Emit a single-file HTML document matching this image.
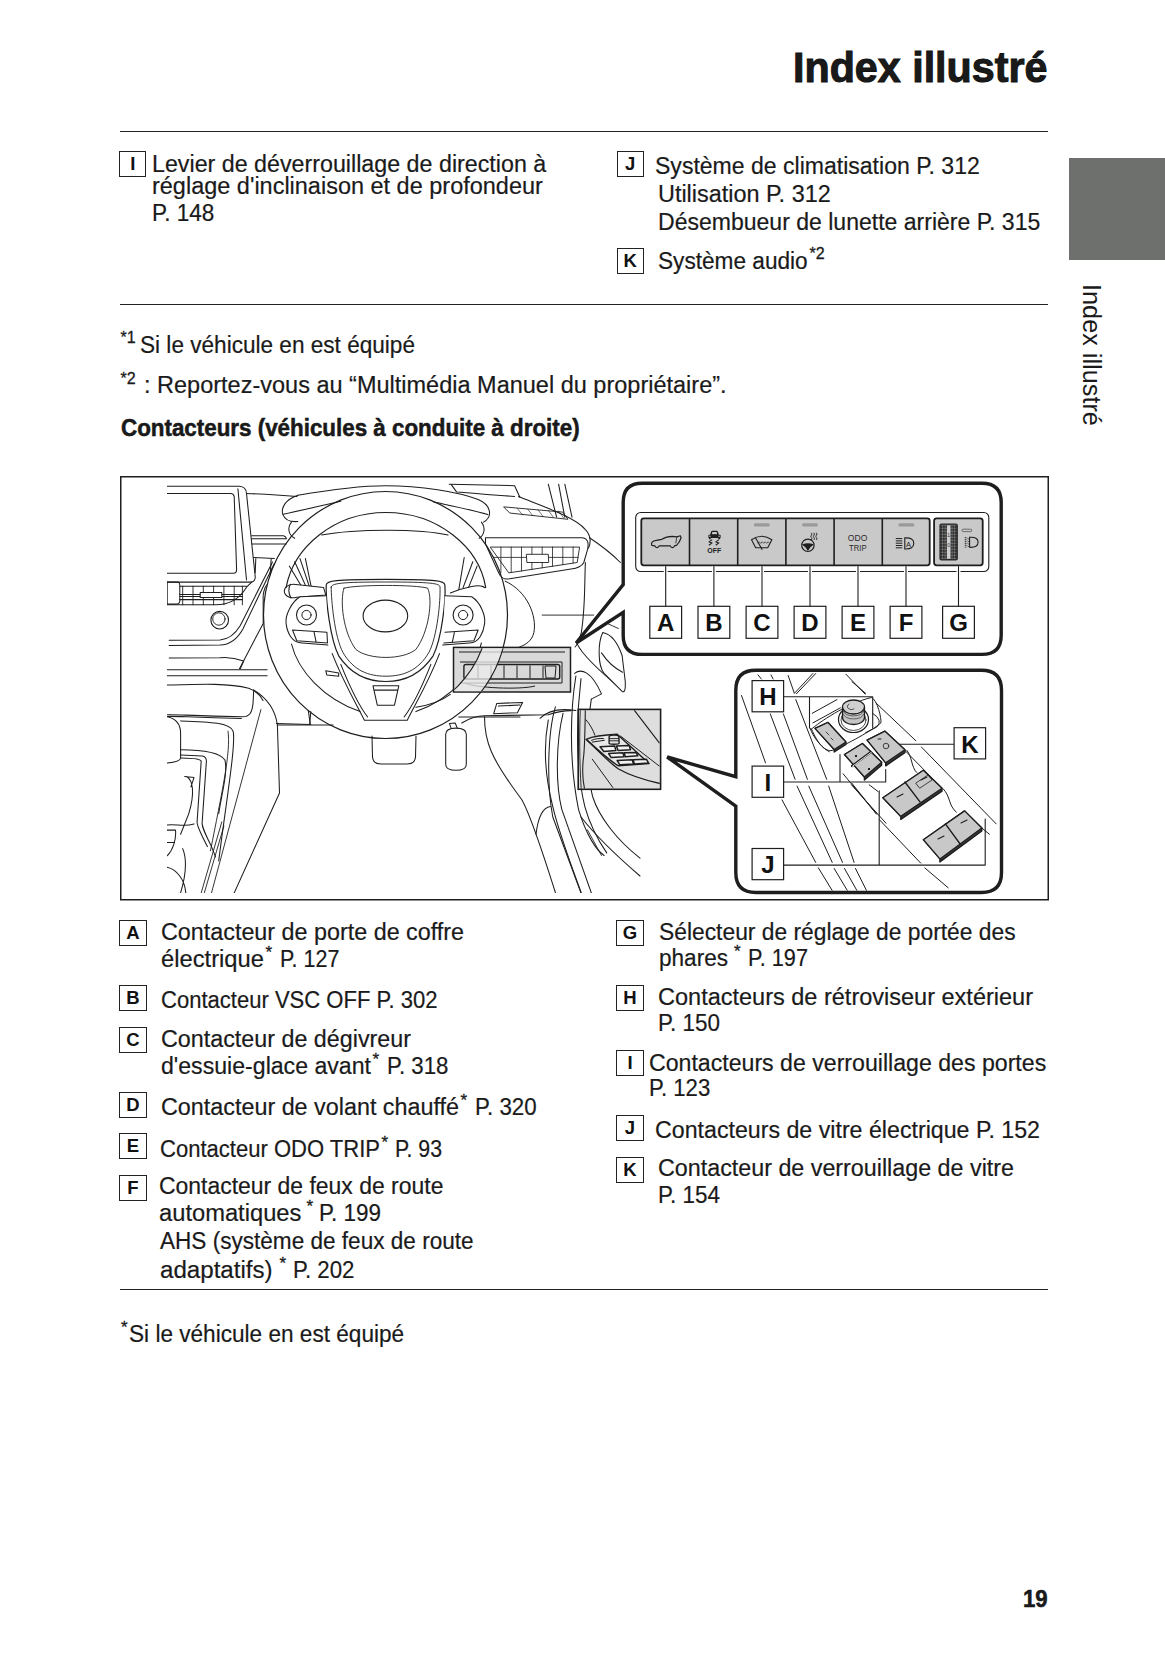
<!DOCTYPE html>
<html><head><meta charset="utf-8"><title>Index illustré</title>
<style>
html,body{margin:0;padding:0;background:#fff;}
body{width:1165px;height:1653px;position:relative;overflow:hidden;font-family:"Liberation Sans",sans-serif;color:#1a1a1a;}
.t{position:absolute;white-space:nowrap;transform-origin:0 0;-webkit-text-stroke:0.2px #1a1a1a;}
.b{font-weight:bold;}
#t_title{-webkit-text-stroke:1px #111;}
#n3,#pg{-webkit-text-stroke:0.5px #111;}
.sup{position:absolute;white-space:nowrap;-webkit-text-stroke:0.3px #1a1a1a;}
.bx{position:absolute;box-sizing:border-box;width:27.2px;height:26px;border:1.5px solid #222;font-weight:bold;font-size:18.5px;line-height:24px;text-align:center;color:#111;}
.rule{position:absolute;left:120px;width:928px;height:1.4px;background:#222;}
</style></head><body>

<div id="t_title" class="t b" style="left:792.6px;top:47.2px;font-size:42px;line-height:42px;transform:scaleX(0.9819)">Index illustré</div>
<div id="l1" class="t" style="left:152.2px;top:152.8px;font-size:23px;line-height:23px;transform:scaleX(1.0109)">Levier de déverrouillage de direction à</div>
<div id="l2" class="t" style="left:152.2px;top:175.3px;font-size:23px;line-height:23px;transform:scaleX(1.0207)">réglage d&#x27;inclinaison et de profondeur</div>
<div id="l3" class="t" style="left:152.2px;top:202.10000000000002px;font-size:23px;line-height:23px;transform:scaleX(0.9806)">P. 148</div>
<div id="r1" class="t" style="left:655.2px;top:154.8px;font-size:23px;line-height:23px;transform:scaleX(1.0015)">Système de climatisation P. 312</div>
<div id="r2" class="t" style="left:658.3px;top:183.0px;font-size:23px;line-height:23px;transform:scaleX(1.0181)">Utilisation P. 312</div>
<div id="r3" class="t" style="left:658.3px;top:210.8px;font-size:23px;line-height:23px;transform:scaleX(1.0011)">Désembueur de lunette arrière P. 315</div>
<div id="r4" class="t" style="left:658.3px;top:249.5px;font-size:23px;line-height:23px;transform:scaleX(0.9840)">Système audio</div>
<div id="n1" class="t" style="left:140px;top:333.8px;font-size:23px;line-height:23px;transform:scaleX(0.9820)">Si le véhicule en est équipé</div>
<div id="n2" class="t" style="left:144px;top:374.2px;font-size:23px;line-height:23px;transform:scaleX(1.0218)">: Reportez-vous au “Multimédia Manuel du propriétaire”.</div>
<div id="n3" class="t b" style="left:121px;top:416.8px;font-size:23px;line-height:23px;transform:scaleX(0.9724)">Contacteurs (véhicules à conduite à droite)</div>
<div id="a1" class="t" style="left:161px;top:920.8px;font-size:23px;line-height:23px;transform:scaleX(1.0142)">Contacteur de porte de coffre</div>
<div id="a2" class="t" style="left:161px;top:947.8px;font-size:23px;line-height:23px;transform:scaleX(1.0327)">électrique</div>
<div id="a3" class="t" style="left:279.6px;top:947.8px;font-size:23px;line-height:23px;transform:scaleX(0.9350)">P. 127</div>
<div id="b1" class="t" style="left:161px;top:988.8px;font-size:23px;line-height:23px;transform:scaleX(0.9581)">Contacteur VSC OFF P. 302</div>
<div id="c1" class="t" style="left:161px;top:1027.8px;font-size:23px;line-height:23px;transform:scaleX(1.0131)">Contacteur de dégivreur</div>
<div id="c2" class="t" style="left:161px;top:1054.8px;font-size:23px;line-height:23px;transform:scaleX(1.0049)">d&#x27;essuie-glace avant</div>
<div id="c3" class="t" style="left:386.6px;top:1054.8px;font-size:23px;line-height:23px;transform:scaleX(0.9665)">P. 318</div>
<div id="d1" class="t" style="left:161px;top:1095.8px;font-size:23px;line-height:23px;transform:scaleX(1.0147)">Contacteur de volant chauffé</div>
<div id="d2" class="t" style="left:475px;top:1095.8px;font-size:23px;line-height:23px;transform:scaleX(0.9696)">P. 320</div>
<div id="e1" class="t" style="left:160px;top:1137.8px;font-size:23px;line-height:23px;transform:scaleX(0.9580)">Contacteur ODO TRIP</div>
<div id="e2" class="t" style="left:395.4px;top:1137.8px;font-size:23px;line-height:23px;transform:scaleX(0.9261)">P. 93</div>
<div id="f1" class="t" style="left:158.6px;top:1174.8px;font-size:23px;line-height:23px;transform:scaleX(0.9974)">Contacteur de feux de route</div>
<div id="f2" class="t" style="left:158.6px;top:1201.8px;font-size:23px;line-height:23px;transform:scaleX(1.0312)">automatiques</div>
<div id="f3" class="t" style="left:319px;top:1201.8px;font-size:23px;line-height:23px;transform:scaleX(0.9759)">P. 199</div>
<div id="f4" class="t" style="left:160.4px;top:1229.8px;font-size:23px;line-height:23px;transform:scaleX(0.9812)">AHS (système de feux de route</div>
<div id="f5" class="t" style="left:160.4px;top:1258.8px;font-size:23px;line-height:23px;transform:scaleX(1.0484)">adaptatifs)</div>
<div id="f6" class="t" style="left:293px;top:1258.8px;font-size:23px;line-height:23px;transform:scaleX(0.9665)">P. 202</div>
<div id="g1" class="t" style="left:659px;top:920.8px;font-size:23px;line-height:23px;transform:scaleX(0.9925)">Sélecteur de réglage de portée des</div>
<div id="g2" class="t" style="left:659px;top:946.8px;font-size:23px;line-height:23px;transform:scaleX(0.9811)">phares</div>
<div id="g3" class="t" style="left:748px;top:946.8px;font-size:23px;line-height:23px;transform:scaleX(0.9444)">P. 197</div>
<div id="h1" class="t" style="left:658px;top:986.1999999999999px;font-size:23px;line-height:23px;transform:scaleX(1.0221)">Contacteurs de rétroviseur extérieur</div>
<div id="h2" class="t" style="left:658px;top:1011.8px;font-size:23px;line-height:23px;transform:scaleX(0.9759)">P. 150</div>
<div id="i1" class="t" style="left:649.4px;top:1051.8px;font-size:23px;line-height:23px;transform:scaleX(1.0054)">Contacteurs de verrouillage des portes</div>
<div id="i2" class="t" style="left:649.4px;top:1077.3999999999999px;font-size:23px;line-height:23px;transform:scaleX(0.9633)">P. 123</div>
<div id="j1" class="t" style="left:655px;top:1118.8px;font-size:23px;line-height:23px;transform:scaleX(1.0082)">Contacteurs de vitre électrique P. 152</div>
<div id="k1" class="t" style="left:658px;top:1157.3999999999999px;font-size:23px;line-height:23px;transform:scaleX(1.0125)">Contacteur de verrouillage de vitre</div>
<div id="k2" class="t" style="left:658px;top:1184.3999999999999px;font-size:23px;line-height:23px;transform:scaleX(0.9759)">P. 154</div>
<div id="fn" class="t" style="left:128.6px;top:1323.3px;font-size:23px;line-height:23px;transform:scaleX(0.9827)">Si le véhicule en est équipé</div>
<div id="pg" class="t b" style="left:1023.3px;top:1588.0px;font-size:23px;line-height:23px;transform:scaleX(0.9651)">19</div>
<div class="sup" style="left:120.5px;top:329.9px;font-size:16px;line-height:16px">*1</div>
<div class="sup" style="left:120.5px;top:370.9px;font-size:16px;line-height:16px">*2</div>
<div class="sup" style="left:809.5px;top:245.9px;font-size:16px;line-height:16px">*2</div>
<div class="sup" style="left:265.5px;top:943.8px;font-size:17px;line-height:17px">*</div>
<div class="sup" style="left:372.5px;top:1050.8px;font-size:17px;line-height:17px">*</div>
<div class="sup" style="left:460.5px;top:1091.8px;font-size:17px;line-height:17px">*</div>
<div class="sup" style="left:381.5px;top:1133.8px;font-size:17px;line-height:17px">*</div>
<div class="sup" style="left:306.5px;top:1197.8px;font-size:17px;line-height:17px">*</div>
<div class="sup" style="left:279.5px;top:1254.8px;font-size:17px;line-height:17px">*</div>
<div class="sup" style="left:734.1px;top:942.8px;font-size:17px;line-height:17px">*</div>
<div class="sup" style="left:120.9px;top:1318.8px;font-size:17px;line-height:17px">*</div>
<div class="bx" style="left:119.3px;top:151.3px">I</div>
<div class="bx" style="left:616.5px;top:151.3px">J</div>
<div class="bx" style="left:616.5px;top:248.2px">K</div>
<div class="bx" style="left:119.4px;top:920px">A</div>
<div class="bx" style="left:119.4px;top:985.4px">B</div>
<div class="bx" style="left:119.4px;top:1026.6px">C</div>
<div class="bx" style="left:119.4px;top:1091.6px">D</div>
<div class="bx" style="left:119.4px;top:1133.4px">E</div>
<div class="bx" style="left:119.4px;top:1175.4px">F</div>
<div class="bx" style="left:616.4px;top:920px">G</div>
<div class="bx" style="left:616.4px;top:985.4px">H</div>
<div class="bx" style="left:616.4px;top:1050.4px">I</div>
<div class="bx" style="left:616.4px;top:1115.4px">J</div>
<div class="bx" style="left:616.4px;top:1157px">K</div>
<div class="rule" style="top:131px"></div>
<div class="rule" style="top:304px"></div>
<div class="rule" style="top:1289px"></div>
<div style="position:absolute;left:1069px;top:157.6px;width:96px;height:102.4px;background:#6d706d"></div>
<div id="side" style="position:absolute;left:1078.5px;top:283.5px;width:0;height:0;"><div style="position:absolute;left:0;top:0;transform-origin:0 0;transform:rotate(90deg) translate(0,-100%) scaleX(0.972);font-size:26px;line-height:26px;white-space:nowrap">Index illustré</div></div>
<svg style="position:absolute;left:0;top:0" width="1165" height="1653" viewBox="0 0 1165 1653">
<defs><clipPath id="artclip"><rect x="167" y="478" width="878" height="415"/></clipPath></defs>
<rect x="120.75" y="476.75" width="927.5" height="423" fill="none" stroke="#1e1e1e" stroke-width="1.5"/>
<g clip-path="url(#artclip)" stroke-linejoin="round" stroke-linecap="round">
<path d="M 167.2,486.3 L 239.3,486.3 Q 246.1,486.7 246.5,493.5 L 255.2,576.5 Q 255.6,582.1 250.2,582.1 L 167.2,582.1" fill="none" stroke="#1e1e1e" stroke-width="1.05" />
<path d="M 167.2,493.5 L 231.1,493.5 Q 233.8,493.9 234.2,496.6 L 236.6,569.7 Q 236.8,573.2 233.3,573.2 L 167.2,573.2" fill="none" stroke="#1e1e1e" stroke-width="1.05" />
<path d="M 237.9,488.8 L 246.5,580.0" fill="none" stroke="#1e1e1e" stroke-width="1.05" />
<path d="M 246.5,493.5 C 263.0,494.1 279.5,495.0 297.0,496.6" fill="none" stroke="#1e1e1e" stroke-width="1.05" />
<path d="M 251.7,535.7 L 283.6,535.7 Q 286.1,536.2 286.5,538.8 M 251.7,538.8 L 286.5,538.8 M 252.3,544.0 L 286.1,544.0" fill="none" stroke="#1e1e1e" stroke-width="1.05" />
<path d="M 253.7,557.4 L 274.3,558.4 M 255.8,558.4 L 255.2,572.8 M 271.2,558.4 L 270.2,574.9" fill="none" stroke="#1e1e1e" stroke-width="1.05" />
<path d="M 167.2,582.1 L 167.2,604.8 L 215.6,604.8 C 230.0,604.8 240.3,597.5 246.5,587.2 L 251.7,582.1" fill="none" stroke="#1e1e1e" stroke-width="1.05" />
<path d="M 167.2,582.1 L 178.5,582.1 Q 179.8,583.1 179.8,585.2 L 179.8,601.7 Q 179.4,603.7 177.5,604.1 L 167.2,604.1" fill="none" stroke="#1e1e1e" stroke-width="1.05" />
<path d="M 179.8,586.2 L 246.5,586.2 M 179.8,599.6 L 242.4,599.6 M 179.8,594.5 L 242.4,594.5 M 179.8,596.5 L 242.4,596.5" fill="none" stroke="#1e1e1e" stroke-width="1.05" />
<path d="M 182.7,586.2 L 182.7,604.8" fill="none" stroke="#1e1e1e" stroke-width="0.9" />
<path d="M 193.0,586.2 L 193.0,604.8" fill="none" stroke="#1e1e1e" stroke-width="0.9" />
<path d="M 203.3,586.2 L 203.3,604.8" fill="none" stroke="#1e1e1e" stroke-width="0.9" />
<path d="M 213.6,586.2 L 213.6,604.8" fill="none" stroke="#1e1e1e" stroke-width="0.9" />
<path d="M 223.9,586.2 L 223.9,604.8" fill="none" stroke="#1e1e1e" stroke-width="0.9" />
<path d="M 234.2,586.2 L 234.2,604.8" fill="none" stroke="#1e1e1e" stroke-width="0.9" />
<path d="M 242.4,586.2 L 242.4,604.8" fill="none" stroke="#1e1e1e" stroke-width="0.9" />
<path d="M 200.2,592.4 L 221.8,592.4 L 221.8,597.5 L 200.2,597.5 Z" fill="#fff" stroke="#1e1e1e" stroke-width="1.05" />
<path d="M 169.2,645.4 L 220.0,645.0 C 230.2,644.6 237.8,638.2 242.9,628.9 L 274.2,563.7" fill="none" stroke="#1e1e1e" stroke-width="1.05" />
<path d="M 169.2,640.3 L 220.0,639.9 C 228.5,639.5 235.2,634.0 240.3,625.5 L 272.5,562.0" fill="none" stroke="#1e1e1e" stroke-width="1.05" />
<path d="M 169.2,658.1 L 220.0,657.7 C 228.5,656.9 236.9,658.5 243.7,661.1 L 240.3,668.7" fill="none" stroke="#1e1e1e" stroke-width="1.05" />
<path d="M 167.2,669.7 L 267.1,669.7" fill="none" stroke="#1e1e1e" stroke-width="1.05" />
<path d="M 167.2,675.8 L 267.1,675.8" fill="none" stroke="#1e1e1e" stroke-width="1.05" />
<path d="M 167.2,685.1 C 201.2,684.1 228.0,683.0 248.6,688.2 C 256.8,691.3 260.9,696.4 263.0,700.6" fill="none" stroke="#1e1e1e" stroke-width="1.05" />
<path d="M 239.5,668.7 L 263.2,623.4 L 263.2,599.3 C 262.8,595.0 264.0,587.4 267.4,584.0" fill="none" stroke="#1e1e1e" stroke-width="1.05" />
<circle cx="219.7" cy="620.2" r="8.8" fill="#fff" stroke="#1e1e1e" stroke-width="1.1"/>
<circle cx="218.9" cy="619.0" r="6.2" fill="none" stroke="#1e1e1e" stroke-width="0.9"/>
<path d="M 297.9,495.3 C 334.4,488.9 366.6,485.7 385.9,485.7 C 420.2,485.7 458.8,492.1 478.2,499.6 C 491.0,505.0 493.2,516.8 483.5,522.1" fill="none" stroke="#1e1e1e" stroke-width="1.05" />
<path d="M 297.9,495.3 C 285.0,499.6 280.7,508.2 282.9,514.6 C 285.0,520.0 290.4,522.1 297.9,521.5" fill="none" stroke="#1e1e1e" stroke-width="1.05" />
<path d="M 283.3,514.2 C 302.2,510.3 323.6,505.0 340.8,501.3" fill="none" stroke="#1e1e1e" stroke-width="1.05" />
<path d="M 433.1,501.8 C 452.4,506.0 473.9,510.3 487.8,514.6" fill="none" stroke="#1e1e1e" stroke-width="1.05" />
<path d="M 291.5,522.1 C 287.2,527.5 288.2,535.0 294.7,538.2 M 481.4,522.1 C 485.7,527.5 484.6,535.0 479.2,538.2" fill="none" stroke="#1e1e1e" stroke-width="1.05" />
<path d="M 321.5,535.0 C 355.8,528.6 420.2,528.6 448.1,535.0" fill="none" stroke="#1e1e1e" stroke-width="1.05" />
<path d="M 305.4,558.6 L 311.8,589.7 M 464.2,557.5 L 458.8,589.7" fill="none" stroke="#1e1e1e" stroke-width="1.05" />
<path d="M 289.3,566.1 L 302.2,587.6 M 294.7,561.8 L 306.5,587.6 M 300.0,558.6 L 309.7,587.6 M 472.8,561.8 L 463.1,587.6 M 477.1,566.1 L 468.5,587.6" fill="none" stroke="#1e1e1e" stroke-width="1.05" />
<path d="M 295.8,584.4 C 287.2,583.3 283.3,588.7 284.6,593.0 C 286.1,597.2 291.5,598.7 296.8,597.2 L 325.8,595.1 L 323.6,587.6 Z" fill="#fff" stroke="#1e1e1e" stroke-width="1.05" />
<path d="M 290.4,584.4 C 288.2,587.6 288.2,594.0 291.0,597.9" fill="none" stroke="#1e1e1e" stroke-width="1.05" />
<path d="M 484.6,587.6 C 480.3,583.3 463.1,587.6 450.3,593.0" fill="none" stroke="#1e1e1e" stroke-width="1.05" />
<path d="M 449.2,484.2 L 514.6,485.7 L 520.0,497.5" fill="none" stroke="#1e1e1e" stroke-width="1.05" />
<path d="M 451.3,484.6 L 456.7,492.1 C 473.9,493.2 495.3,495.3 514.6,496.4" fill="none" stroke="#1e1e1e" stroke-width="1.05" />
<ellipse cx="385.5" cy="615" rx="122" ry="123.5" fill="none" stroke="#1e1e1e" stroke-width="1.2"/>
<path d="M 286.1,587.6 C 293.6,546.8 334.4,512.5 385.9,512.5 C 437.4,512.5 479.2,546.8 485.7,587.6" fill="none" stroke="#1e1e1e" stroke-width="1.15" />
<path d="M 326.2,585.0 C 326.2,580.7 334.4,579.4 385.9,579.4 C 437.4,579.4 444.9,580.7 444.9,585.0 C 446.0,600.0 441.7,638.6 433.1,655.8 C 420.2,675.1 403.0,681.5 385.9,681.5 C 368.7,681.5 351.5,675.1 338.7,655.8 C 330.1,638.6 325.8,600.0 326.2,585.0 Z" fill="#fff" stroke="#1e1e1e" stroke-width="1.2" />
<path d="M 331.2,587.1 C 331.2,583.3 340.8,582.0 385.9,582.0 C 430.9,582.0 440.0,583.3 440.0,587.1 C 440.6,600.0 437.4,636.5 428.8,652.6 C 418.1,670.8 403.0,676.2 385.9,676.2 C 368.7,676.2 353.7,670.8 343.0,652.6 C 334.4,636.5 331.2,600.0 331.2,587.1 Z" fill="none" stroke="#1e1e1e" stroke-width="0.9" />
<path d="M 344.0,588.2 C 355.8,584.5 415.9,584.5 427.7,588.2 C 433.1,600.0 428.8,632.2 415.9,649.4 C 403.0,660.1 368.7,660.1 355.8,649.4 C 343.0,632.2 339.7,600.0 344.0,588.2 Z" fill="none" stroke="#1e1e1e" stroke-width="0.9" />
<ellipse cx="385.4" cy="616" rx="22.3" ry="15.9" fill="none" stroke="#1e1e1e" stroke-width="1.1"/>
<path d="M 326.2,595.7 L 300.0,596.8 C 291.5,602.1 285.0,615.0 286.1,623.6 C 287.2,632.2 291.5,642.9 302.2,642.9 L 327.9,645.1" fill="#fff" stroke="#1e1e1e" stroke-width="1.05" />
<path d="M 444.9,595.7 L 471.7,596.8 C 480.3,602.1 485.7,615.0 484.6,623.6 C 483.5,632.2 479.2,642.9 469.6,642.9 L 442.7,645.1" fill="#fff" stroke="#1e1e1e" stroke-width="1.05" />
<path d="M 292.5,630.0 L 326.9,632.2 L 327.5,642.9 L 296.8,640.8 Z M 314.0,631.8 L 316.1,641.8 M 454.5,631.8 L 452.4,641.8 M 444.9,632.2 L 478.2,630.0 L 473.9,640.8 L 443.8,642.9" fill="none" stroke="#1e1e1e" stroke-width="1.05" />
<circle cx="306.5" cy="615" r="10" fill="#fff" stroke="#1e1e1e" stroke-width="1.1"/><circle cx="306.5" cy="615" r="4.6" fill="none" stroke="#1e1e1e" stroke-width="1"/>
<circle cx="463.1" cy="615" r="10" fill="#fff" stroke="#1e1e1e" stroke-width="1.1"/><circle cx="463.1" cy="615" r="4.6" fill="none" stroke="#1e1e1e" stroke-width="1"/>
<path d="M 332.2,653.6 C 343.0,681.5 355.8,703.0 364.4,720.2 L 407.3,720.2 C 415.9,703.0 428.8,681.5 439.5,653.6" fill="none" stroke="#1e1e1e" stroke-width="1.05" />
<path d="M 340.8,664.4 C 349.4,685.8 360.1,707.3 367.6,717.0 M 430.9,664.4 C 422.4,685.8 411.6,707.3 404.1,717.0" fill="none" stroke="#1e1e1e" stroke-width="1.05" />
<path d="M 373.0,685.8 L 398.8,685.8 L 394.5,705.2 L 377.3,705.2 Z M 374.1,690.1 L 397.7,690.1" fill="none" stroke="#1e1e1e" stroke-width="1.05" />
<path d="M 291.5,644.0 C 297.9,670.8 323.6,698.7 360.1,711.6 M 415.9,711.6 C 452.4,698.7 476.0,670.8 481.4,642.9" fill="none" stroke="#1e1e1e" stroke-width="1.05" />
<path d="M 325.8,670.8 L 338.7,673.0 L 338.7,676.2 L 326.9,675.1 Z" fill="none" stroke="#1e1e1e" stroke-width="1.05" />
<path d="M 276.4,723.4 L 310.8,724.5 M 310.8,711.6 L 309.7,724.5 M 458.8,717.0 L 520.0,717.0 M 415.9,707.3 C 428.8,705.2 441.7,700.9 450.3,694.4" fill="none" stroke="#1e1e1e" stroke-width="1.05" />
</g>
<g clip-path="url(#artclip)" stroke-linejoin="round" stroke-linecap="round">
<path d="M 548.3,484.2 L 556.6,517.2 M 558.6,484.2 L 564.8,517.2 M 564.8,484.2 L 572.0,517.2" fill="none" stroke="#1e1e1e" stroke-width="1.05" />
<path d="M 518.5,496.6 C 544.2,506.9 575.1,517.2 585.4,529.6 C 591.6,535.7 590.6,544.0 588.5,548.1" fill="none" stroke="#1e1e1e" stroke-width="1.05" />
<path d="M 485.5,537.8 L 582.3,537.8 C 588.5,538.8 589.1,544.0 587.1,551.2 L 583.8,562.5 C 581.7,566.6 577.2,568.3 571.0,569.1 L 508.2,579.0 C 503.0,579.4 500.9,577.4 498.9,573.2 L 485.5,544.0 Z" fill="none" stroke="#1e1e1e" stroke-width="1.05" />
<path d="M 490.6,547.1 L 579.6,547.1 L 577.2,562.5 L 509.2,572.8 Z" fill="none" stroke="#1e1e1e" stroke-width="0.9" />
<path d="M 500.9,547.1 L 500.9,572.8" fill="none" stroke="#1e1e1e" stroke-width="0.8" />
<path d="M 511.2,547.1 L 511.2,572.5" fill="none" stroke="#1e1e1e" stroke-width="0.8" />
<path d="M 521.5,547.1 L 521.5,571.0" fill="none" stroke="#1e1e1e" stroke-width="0.8" />
<path d="M 531.9,547.1 L 531.9,569.4" fill="none" stroke="#1e1e1e" stroke-width="0.8" />
<path d="M 542.2,547.1 L 542.2,567.8" fill="none" stroke="#1e1e1e" stroke-width="0.8" />
<path d="M 552.5,547.1 L 552.5,566.3" fill="none" stroke="#1e1e1e" stroke-width="0.8" />
<path d="M 562.8,547.1 L 562.8,564.7" fill="none" stroke="#1e1e1e" stroke-width="0.8" />
<path d="M 573.1,547.1 L 573.1,563.2" fill="none" stroke="#1e1e1e" stroke-width="0.8" />
<path d="M 493.7,557.4 L 578.2,557.4" fill="none" stroke="#1e1e1e" stroke-width="0.8" />
<path d="M 526.7,554.3 L 548.3,554.3 L 548.7,562.5 L 527.3,562.5 Z" fill="#fff" stroke="#1e1e1e" stroke-width="0.9" />
<path d="M 504.0,506.9 L 562.8,512.1 L 567.9,519.3 L 510.2,513.1 Z" fill="none" stroke="#1e1e1e" stroke-width="0.9" />
<path d="M 517.4,508.6 L 522.6,514.9" fill="none" stroke="#1e1e1e" stroke-width="0.6" />
<path d="M 527.7,509.2 L 532.9,515.8" fill="none" stroke="#1e1e1e" stroke-width="0.6" />
<path d="M 538.0,509.8 L 543.2,516.6" fill="none" stroke="#1e1e1e" stroke-width="0.6" />
<path d="M 548.3,510.4 L 553.5,517.4" fill="none" stroke="#1e1e1e" stroke-width="0.6" />
<path d="M 558.6,511.0 L 563.8,518.2" fill="none" stroke="#1e1e1e" stroke-width="0.6" />
<path d="M 585.4,562.5 C 584.4,583.1 585.4,607.9 581.3,632.6 C 579.2,640.8 577.2,644.9 575.1,647.0" fill="none" stroke="#1e1e1e" stroke-width="1.05" />
<path d="M 505.1,581.1 C 527.7,591.4 537.0,616.1 533.9,632.6 C 531.9,640.8 525.7,644.9 519.5,647.0" fill="none" stroke="#1e1e1e" stroke-width="1.0" />
<path d="M 542.2,615.1 L 593.7,615.1 M 595.7,618.2 L 618.4,628.5" fill="none" stroke="#1e1e1e" stroke-width="0.9" />
<path d="M 589.5,537.8 C 601.9,546.0 612.2,554.3 620.4,562.5" fill="none" stroke="#1e1e1e" stroke-width="1.05" />
<path d="M 577.2,643.9 C 581.3,653.2 597.8,669.7 622.5,690.3" fill="none" stroke="#1e1e1e" stroke-width="1.05" />
<path d="M 445.7,734.3 C 445.7,730.2 449.4,728.1 456.0,728.1 C 462.6,728.1 466.3,730.2 466.3,734.3 L 466.3,764.2 C 466.3,768.3 462.8,770.3 456.0,770.3 C 449.4,770.3 445.7,768.3 445.7,764.2 Z" fill="#fff" stroke="#1e1e1e" stroke-width="1.05" />
<path d="M 451.1,728.1 L 449.4,723.4 L 455.2,723.0 L 457.3,728.1" fill="none" stroke="#1e1e1e" stroke-width="1.05" />
<path d="M 372.0,736.0 L 372.5,757.0 Q 373.0,764.0 381.0,764.0 L 407.0,764.0 Q 415.0,764.0 415.5,757.0 L 416.0,736.0" fill="none" stroke="#1e1e1e" stroke-width="1.05" />
<path d="M 496.8,703.4 L 522.6,702.4 L 517.4,712.7 L 493.7,713.7 Z M 498.5,706.1 L 519.9,705.0" fill="none" stroke="#1e1e1e" stroke-width="1.05" />
<path d="M 461.8,723.0 C 472.1,716.8 478.3,715.8 484.5,715.8 L 548.3,714.7 C 554.5,712.7 562.8,710.6 571.0,710.6" fill="none" stroke="#1e1e1e" stroke-width="1.05" />
<path d="M 484.5,716.8 C 484.5,741.5 490.6,758.0 521.5,799.2 C 527.7,809.5 542.2,850.7 555.5,892.9" fill="none" stroke="#1e1e1e" stroke-width="1.05" />
<path d="M 548.3,719.9 C 544.2,741.5 544.2,772.4 552.5,805.4 C 556.6,823.9 571.0,865.1 581.3,892.9" fill="none" stroke="#1e1e1e" stroke-width="1.05" />
<path d="M 536.0,834.2 C 538.0,817.7 542.2,807.4 550.4,806.4" fill="none" stroke="#1e1e1e" stroke-width="1.05" />
<path d="M 602.8,632.4 C 597.7,642.7 597.7,665.7 604.1,673.4 L 622.1,691.4 C 625.9,693.9 625.9,683.7 624.6,676.0 L 622.1,655.5 C 616.9,640.1 609.2,633.7 602.8,632.4 Z" fill="#fff" stroke="#1e1e1e" stroke-width="1.05" />
<path d="M 601.5,652.9 C 606.7,660.6 614.4,668.3 622.6,672.2" fill="none" stroke="#1e1e1e" stroke-width="1.05" />
<path d="M 574.6,673.4 C 581.0,668.3 591.3,670.9 601.5,693.9 L 591.3,699.1" fill="none" stroke="#1e1e1e" stroke-width="1.05" />
<path d="M 575.9,676.0 C 570.8,706.8 568.2,758.1 578.5,809.3 C 586.2,835.0 596.4,850.4 604.1,855.5" fill="none" stroke="#1e1e1e" stroke-width="1.05" />
<path d="M 581.0,678.6 C 575.9,719.6 575.9,770.9 584.9,806.8 C 591.3,829.8 601.5,845.2 606.7,852.9" fill="none" stroke="#1e1e1e" stroke-width="1.05" />
<path d="M 591.3,699.1 C 586.2,732.4 586.2,770.9 592.6,796.5 C 599.0,817.0 616.9,840.1 640.0,858.1" fill="none" stroke="#1e1e1e" stroke-width="1.05" />
<path d="M 555.4,706.8 C 547.7,732.4 546.4,783.7 552.8,817.0 L 582.3,896.5" fill="none" stroke="#1e1e1e" stroke-width="1.05" />
<path d="M 563.1,713.2 C 555.9,742.7 555.4,783.7 561.8,809.3 L 592.6,896.5" fill="none" stroke="#1e1e1e" stroke-width="1.05" />
<path d="M 540.0,718.3 C 547.7,710.6 560.5,708.1 575.9,710.6" fill="none" stroke="#1e1e1e" stroke-width="1.05" />
<path d="M 581.0,817.0 C 599.0,840.1 622.1,860.6 640.0,876.0" fill="none" stroke="#1e1e1e" stroke-width="1.05" />
<path d="M 587.4,829.8 L 601.5,855.5" fill="none" stroke="#1e1e1e" stroke-width="0.9" />
<path d="M 167.2,714.7 C 176.5,714.3 190.9,715.8 242.4,716.8 C 249.6,716.8 252.3,712.7 253.1,702.4 L 253.7,690.0" fill="none" stroke="#1e1e1e" stroke-width="1.05" />
<path d="M 167.2,716.4 C 176.5,716.0 190.9,717.4 241.4,718.4" fill="none" stroke="#1e1e1e" stroke-width="1.05" />
<path d="M 180.6,720.9 C 211.5,721.9 230.0,723.0 233.1,731.2 C 236.2,743.6 225.9,803.3 218.7,861.0" fill="none" stroke="#1e1e1e" stroke-width="1.05" />
<path d="M 253.7,690.0 C 267.1,698.2 275.4,710.6 277.4,725.0 L 279.5,793.0 L 234.2,892.9" fill="none" stroke="#1e1e1e" stroke-width="1.05" />
<path d="M 260.9,709.6 L 211.5,892.9" fill="none" stroke="#1e1e1e" stroke-width="0.9" />
<path d="M 228.0,731.2 C 231.1,751.8 221.8,793.0 210.5,850.7" fill="none" stroke="#1e1e1e" stroke-width="0.9" />
<path d="M 167.2,716.8 C 176.5,718.8 180.6,725.0 180.6,733.3 L 180.6,758.0 C 180.6,761.1 172.4,762.5 167.2,763.1" fill="none" stroke="#1e1e1e" stroke-width="1.05" />
<path d="M 180.6,749.7 C 201.2,749.7 219.7,751.8 224.9,760.0 C 228.0,772.4 221.8,793.0 218.7,813.6" fill="none" stroke="#1e1e1e" stroke-width="1.05" />
<path d="M 180.6,754.9 L 202.2,755.9 C 205.3,756.3 206.4,758.0 206.4,761.1 L 202.2,821.9 C 201.2,826.0 205.3,834.2 211.5,846.6 L 215.6,856.9" fill="none" stroke="#1e1e1e" stroke-width="1.05" />
<path d="M 180.6,758.0 C 197.1,758.4 200.2,759.0 201.2,761.1 L 197.1,821.9 C 196.7,826.0 201.2,834.2 207.4,846.6" fill="none" stroke="#1e1e1e" stroke-width="1.05" />
<path d="M 184.7,776.5 L 194.0,777.6 L 190.9,786.8 M 186.8,776.5 C 193.0,780.6 195.0,793.0 188.8,813.6 L 180.6,834.2" fill="none" stroke="#1e1e1e" stroke-width="1.05" />
<path d="M 167.2,824.9 C 176.5,823.9 184.7,827.0 194.0,823.9 M 167.2,830.1 L 175.5,830.1 C 176.5,840.4 172.4,850.7 167.2,855.8" fill="none" stroke="#1e1e1e" stroke-width="1.05" />
<path d="M 167.2,842.5 L 174.4,842.5 M 167.2,867.2 C 176.5,869.2 184.7,879.5 185.8,892.9 M 180.6,892.9 C 185.8,875.4 187.8,861.0 182.7,848.6" fill="none" stroke="#1e1e1e" stroke-width="1.05" />
<path d="M 277.4,725.0 L 333.1,725.0 M 308.3,710.6 L 310.4,725.0" fill="none" stroke="#1e1e1e" stroke-width="1.05" />
<path d="M 201.2,892.9 L 221.8,821.9 M 204.3,892.9 L 223.9,826.0" fill="none" stroke="#1e1e1e" stroke-width="0.9" />
</g>
<defs><clipPath id="swbox"><rect x="454.3" y="648.2" width="115.4" height="43"/></clipPath></defs>
<rect x="453.5" y="647.4" width="117" height="44.6" fill="#d9d9d9" stroke="#1e1e1e" stroke-width="1.5"/>
<g stroke="#1e1e1e" fill="none" stroke-linejoin="round">
<path d="M459,652 L565,652 M460,662 L562,662 L562,683 L460,683" stroke-width="1"/>
<rect x="463.9" y="664.5" width="95.8" height="14.5" rx="2" stroke-width="1.4"/>
<line x1="478" y1="665.5" x2="478" y2="678" stroke-width="1"/>
<line x1="491" y1="665.5" x2="491" y2="678" stroke-width="1"/>
<line x1="504" y1="665.5" x2="504" y2="678" stroke-width="1"/>
<line x1="517" y1="665.5" x2="517" y2="678" stroke-width="1"/>
<line x1="530" y1="665.5" x2="530" y2="678" stroke-width="1"/>
<line x1="543" y1="665.5" x2="543" y2="678" stroke-width="1"/>
<path d="M545,666 L556,666 L555,678 L546,678 Z" stroke-width="1"/>
<path d="M465,683 C475,688 520,690 535,686" stroke-width="1"/>
</g><g clip-path="url(#swbox)"><path d="M263.5,615 A122,123.5 0 1,0 507.5,615 A122,123.5 0 1,0 263.5,615 Z M282.5,612 A103,104 0 1,0 488.5,612 A103,104 0 1,0 282.5,612 Z" fill="#ececec" fill-opacity="0.75" fill-rule="evenodd" stroke="#1e1e1e" stroke-width="1.1"/>
</g>
<rect x="578.2" y="709.4" width="82.4" height="79.9" fill="#dedede" stroke="#1e1e1e" stroke-width="1.6"/>
<defs><clipPath id="dsw"><rect x="579" y="710.2" width="80.8" height="78.3"/></clipPath></defs><g clip-path="url(#dsw)" stroke-linejoin="round" stroke-linecap="round">
<path d="M 585.5,700.0 C 585.0,725.8 585.0,742.9 583.7,755.8 C 582.0,768.7 582.9,781.5 584.6,789.3" fill="none" stroke="#1e1e1e" stroke-width="1.1" />
<path d="M 580.3,709.0 C 579.4,734.3 579.4,760.1 581.2,789.3" fill="none" stroke="#1e1e1e" stroke-width="0.9" />
<path d="M 585.9,719.7 C 589.7,724.0 593.2,730.0 594.9,735.2" fill="none" stroke="#1e1e1e" stroke-width="1.0" />
<path d="M 634.4,710.3 L 659.3,742.9" fill="none" stroke="#1e1e1e" stroke-width="1.1" />
<path d="M 620.6,736.1 L 659.3,766.1" fill="none" stroke="#1e1e1e" stroke-width="1.0" />
<path d="M 592.3,759.2 L 612.9,787.6" fill="none" stroke="#1e1e1e" stroke-width="1.0" />
<path d="M 586.3,739.5 C 595.8,748.1 606.1,760.1 618.1,768.7 C 630.1,775.5 647.3,780.7 661.0,783.7" fill="none" stroke="#1e1e1e" stroke-width="1.3" />
<path d="M 586.3,739.3 C 591.5,736.9 604.3,734.8 617.2,734.3 L 649.0,763.5 L 618.1,765.7 C 608.6,760.1 595.8,748.1 586.3,739.3 Z" fill="#e8e8e8" stroke="#1e1e1e" stroke-width="1.4" />
<path d="M 591.5,740.3 C 595.8,738.6 600.0,738.2 603.5,738.6 M 592.3,742.1 L 604.3,740.3" fill="none" stroke="#1e1e1e" stroke-width="1.0" />
<path d="M 600.0,746.8 L 614.6,745.9 L 615.9,750.6 L 603.9,751.5 Z" fill="#f2f2f2" stroke="#1e1e1e" stroke-width="1.5" />
<path d="M 616.4,745.9 L 629.2,745.5 L 630.5,749.8 L 618.1,750.5 Z" fill="#f2f2f2" stroke="#1e1e1e" stroke-width="1.5" />
<path d="M 608.6,753.6 L 622.8,752.8 L 624.1,756.7 L 611.2,757.5 Z" fill="#f2f2f2" stroke="#1e1e1e" stroke-width="1.5" />
<path d="M 624.1,752.8 L 636.1,752.4 L 637.8,755.8 L 625.4,756.7 Z" fill="#f2f2f2" stroke="#1e1e1e" stroke-width="1.5" />
<path d="M 617.2,760.5 L 632.2,759.7 L 633.5,763.9 L 619.8,764.8 Z" fill="#f2f2f2" stroke="#1e1e1e" stroke-width="1.5" />
<path d="M 633.1,759.7 L 646.4,759.2 L 648.5,763.1 L 634.4,763.9 Z" fill="#f2f2f2" stroke="#1e1e1e" stroke-width="1.5" />
<path d="M 609.1,736.9 C 609.1,734.3 618.9,734.3 618.9,736.9 L 619.1,743.3 C 619.1,744.6 609.1,744.6 609.1,743.3 Z" fill="#e0e0e0" stroke="#1e1e1e" stroke-width="1.4" />
<path d="M 609.5,738.6 L 618.8,738.6 M 609.5,740.8 L 618.8,740.8" fill="none" stroke="#1e1e1e" stroke-width="0.9" />
</g>
<path d="M642.2,483.2 L982,483.2 Q1001.2,483.2 1001.2,502.4 L1001.2,635.2 Q1001.2,654.4 982,654.4 L642.2,654.4 Q623.2,654.4 623.2,635.4 L623.2,612.4 L576.1,643 L623.2,584.6 L623.2,502.2 Q623.2,483.2 642.2,483.2 Z" fill="#fff" stroke="#1e1e1e" stroke-width="3.4" stroke-linejoin="miter"/>
<rect x="635.7" y="512.5" width="353.1" height="59" rx="5" fill="#fff" stroke="#1e1e1e" stroke-width="1.1"/>
<rect x="641.3" y="518.3" width="288.4" height="47" rx="2.5" fill="#c9c9c9" stroke="#1e1e1e" stroke-width="1.8"/>
<line x1="689.5" y1="518.3" x2="689.5" y2="565.3" stroke="#1e1e1e" stroke-width="1.6"/>
<line x1="737.7" y1="518.3" x2="737.7" y2="565.3" stroke="#1e1e1e" stroke-width="1.6"/>
<line x1="785.9" y1="518.3" x2="785.9" y2="565.3" stroke="#1e1e1e" stroke-width="1.6"/>
<line x1="834.1" y1="518.3" x2="834.1" y2="565.3" stroke="#1e1e1e" stroke-width="1.6"/>
<line x1="882.3" y1="518.3" x2="882.3" y2="565.3" stroke="#1e1e1e" stroke-width="1.6"/>
<rect x="934.1" y="518.3" width="48.6" height="47" rx="2.5" fill="#c9c9c9" stroke="#1e1e1e" stroke-width="1.8"/>
<rect x="753.8" y="523.2" width="16" height="3.4" rx="1.7" fill="#9a9a9a"/>
<rect x="802.0" y="523.2" width="16" height="3.4" rx="1.7" fill="#9a9a9a"/>
<rect x="898.4" y="523.2" width="16" height="3.4" rx="1.7" fill="#9a9a9a"/>
<rect x="962" y="529.2" width="9.8" height="2.4" rx="1.2" fill="none" stroke="#444" stroke-width="0.7"/>
<line x1="665.7" y1="566.5" x2="665.7" y2="606.3" stroke="#fff" stroke-width="4"/>
<line x1="665.7" y1="565" x2="665.7" y2="606.3" stroke="#1e1e1e" stroke-width="1.1"/>
<rect x="649.8" y="606.3" width="31.8" height="32" fill="#fff" stroke="#1e1e1e" stroke-width="1.2"/>
<text x="665.7" y="631.2" text-anchor="middle" font-family="Liberation Sans" font-weight="bold" font-size="24" fill="#111">A</text>
<line x1="713.9" y1="566.5" x2="713.9" y2="606.3" stroke="#fff" stroke-width="4"/>
<line x1="713.9" y1="565" x2="713.9" y2="606.3" stroke="#1e1e1e" stroke-width="1.1"/>
<rect x="698.0" y="606.3" width="31.8" height="32" fill="#fff" stroke="#1e1e1e" stroke-width="1.2"/>
<text x="713.9" y="631.2" text-anchor="middle" font-family="Liberation Sans" font-weight="bold" font-size="24" fill="#111">B</text>
<line x1="762" y1="566.5" x2="762" y2="606.3" stroke="#fff" stroke-width="4"/>
<line x1="762" y1="565" x2="762" y2="606.3" stroke="#1e1e1e" stroke-width="1.1"/>
<rect x="746.1" y="606.3" width="31.8" height="32" fill="#fff" stroke="#1e1e1e" stroke-width="1.2"/>
<text x="762.0" y="631.2" text-anchor="middle" font-family="Liberation Sans" font-weight="bold" font-size="24" fill="#111">C</text>
<line x1="810" y1="566.5" x2="810" y2="606.3" stroke="#fff" stroke-width="4"/>
<line x1="810" y1="565" x2="810" y2="606.3" stroke="#1e1e1e" stroke-width="1.1"/>
<rect x="794.1" y="606.3" width="31.8" height="32" fill="#fff" stroke="#1e1e1e" stroke-width="1.2"/>
<text x="810.0" y="631.2" text-anchor="middle" font-family="Liberation Sans" font-weight="bold" font-size="24" fill="#111">D</text>
<line x1="858" y1="566.5" x2="858" y2="606.3" stroke="#fff" stroke-width="4"/>
<line x1="858" y1="565" x2="858" y2="606.3" stroke="#1e1e1e" stroke-width="1.1"/>
<rect x="842.1" y="606.3" width="31.8" height="32" fill="#fff" stroke="#1e1e1e" stroke-width="1.2"/>
<text x="858.0" y="631.2" text-anchor="middle" font-family="Liberation Sans" font-weight="bold" font-size="24" fill="#111">E</text>
<line x1="906" y1="566.5" x2="906" y2="606.3" stroke="#fff" stroke-width="4"/>
<line x1="906" y1="565" x2="906" y2="606.3" stroke="#1e1e1e" stroke-width="1.1"/>
<rect x="890.1" y="606.3" width="31.8" height="32" fill="#fff" stroke="#1e1e1e" stroke-width="1.2"/>
<text x="906.0" y="631.2" text-anchor="middle" font-family="Liberation Sans" font-weight="bold" font-size="24" fill="#111">F</text>
<line x1="958.5" y1="566.5" x2="958.5" y2="606.3" stroke="#fff" stroke-width="4"/>
<line x1="958.5" y1="565" x2="958.5" y2="606.3" stroke="#1e1e1e" stroke-width="1.1"/>
<rect x="942.6" y="606.3" width="31.8" height="32" fill="#fff" stroke="#1e1e1e" stroke-width="1.2"/>
<text x="958.5" y="631.2" text-anchor="middle" font-family="Liberation Sans" font-weight="bold" font-size="24" fill="#111">G</text>
<g id="c2">
<path d="M755.8,670.3 L981.5,670.3 Q1001.5,670.3 1001.5,690.3 L1001.5,872.5 Q1001.5,892.5 981.5,892.5 L755.8,892.5 Q735.8,892.5 735.8,872.5 L735.8,806 L667.2,757 L735.8,776.7 L735.8,690.3 Q735.8,670.3 755.8,670.3 Z" fill="#fff" stroke="#1e1e1e" stroke-width="3.4" stroke-linejoin="miter"/>
<g transform="translate(641.3,518.3)"><path d="M10.5,27 C9.5,24.5 11,22.5 15,22 L20.5,21 C23.5,19 27,18 31,18 L35.5,18.6 L39,17.5 L39.8,19.5 C38.8,22.5 37.5,25 35.5,26.8 L33.2,27.6 C32.6,29.8 29.6,29.8 29,27.6 L17.8,27.6 C17.2,29.8 14.2,29.8 13.6,27.6 Z" fill="none" stroke="#1e1e1e" stroke-width="1.2" stroke-linejoin="round"/><path d="M35.5,18.6 L34.5,25" stroke="#1e1e1e" stroke-width="0.8"/></g>
<g transform="translate(689.5,518.3)"><path d="M20.6,16.8 L21.6,13.4 Q22,12.5 23,12.5 L27,12.5 Q28,12.5 28.4,13.4 L29.4,16.8 Z" fill="#1e1e1e"/><path d="M22.3,16 L22.9,13.8 L27.1,13.8 L27.7,16 Z" fill="#c9c9c9"/><rect x="18.9" y="16.5" width="12.2" height="3.3" rx="0.6" fill="#1e1e1e"/><circle cx="20.4" cy="18" r="0.7" fill="#c9c9c9"/><circle cx="29.6" cy="18" r="0.7" fill="#c9c9c9"/><rect x="19.4" y="19.6" width="1.8" height="1.3" fill="#1e1e1e"/><rect x="28.8" y="19.6" width="1.8" height="1.3" fill="#1e1e1e"/><path d="M22.6,21.3 L19.6,23.6 L22.6,24.6 L19.4,27 M29.4,21.3 L26.4,23.6 L29.4,24.6 L26.2,27" fill="none" stroke="#1e1e1e" stroke-width="1.1" stroke-linejoin="round"/><text x="24.8" y="34.8" text-anchor="middle" font-family="Liberation Sans" font-weight="bold" font-size="7" fill="#1e1e1e">OFF</text></g>
<g transform="translate(737.7,518.3)"><path d="M13.8,21.5 Q24,14.5 34.2,21.5 L30,29.5 L18,29.5 Z" fill="none" stroke="#1e1e1e" stroke-width="1.1" stroke-linejoin="round"/><path d="M17.5,19 L24.5,31.5" stroke="#1e1e1e" stroke-width="1.1"/><path d="M20,25 l1.5,-1.5 l1.5,1.5 l1.5,-1.5 l1.5,1.5 l1.5,-1.5 l1.5,1.5 l1.5,-1.5 l1.5,1.5" fill="none" stroke="#1e1e1e" stroke-width="0.7"/></g>
<g transform="translate(785.9,518.3)"><circle cx="22" cy="27" r="6.2" fill="none" stroke="#1e1e1e" stroke-width="1.2"/><path d="M16,26.2 Q22,23.5 28,26.2 L24.5,29 L22,32.8 L19.5,29 Z" fill="#1e1e1e"/><path d="M25.5,14.5 q1.2,1.2 0,2.4 q-1.2,1.2 0,2.4 q1.2,1.2 0,2.4 M28,14.5 q1.2,1.2 0,2.4 q-1.2,1.2 0,2.4 q1.2,1.2 0,2.4 M30.5,14.5 q1.2,1.2 0,2.4 q-1.2,1.2 0,2.4 q1.2,1.2 0,2.4" fill="none" stroke="#1e1e1e" stroke-width="0.9"/><path d="M26,21.5 Q24,20 21,20.8" fill="none" stroke="#1e1e1e" stroke-width="0"/></g>
<g transform="translate(834.1,518.3)"><text x="23.5" y="23.2" text-anchor="middle" font-family="Liberation Sans" font-size="9.2" fill="#2a2a2a" textLength="19.5" lengthAdjust="spacingAndGlyphs">ODO</text><text x="23.7" y="32.3" text-anchor="middle" font-family="Liberation Sans" font-size="9.2" fill="#2a2a2a" textLength="17.5" lengthAdjust="spacingAndGlyphs">TRIP</text></g>
<g transform="translate(882.3,518.3)"><path d="M13.5,20.3 h6.5 M13.5,22.6 h6.5 M13.5,24.9 h6.5 M13.5,27.2 h6.5 M13.5,29.5 h6.5" stroke="#1e1e1e" stroke-width="1"/><path d="M22.5,19.6 Q31.5,19 31.5,25 Q31.5,31 22.5,30.6 Z" fill="none" stroke="#1e1e1e" stroke-width="1.1"/><text x="26.2" y="28.3" text-anchor="middle" font-family="Liberation Sans" font-size="7.5" fill="#1e1e1e">A</text></g>
<g transform="translate(934.1,518.3)"><rect x="5.3" y="5.3" width="18.5" height="36.8" rx="2" fill="#2a2a2a"/><line x1="6.5" y1="7" x2="22.5" y2="7" stroke="#888" stroke-width="0.6"/><line x1="6.5" y1="10" x2="22.5" y2="10" stroke="#888" stroke-width="0.6"/><line x1="6.5" y1="13" x2="22.5" y2="13" stroke="#888" stroke-width="0.6"/><line x1="6.5" y1="16" x2="22.5" y2="16" stroke="#888" stroke-width="0.6"/><line x1="6.5" y1="19" x2="22.5" y2="19" stroke="#888" stroke-width="0.6"/><line x1="6.5" y1="22" x2="22.5" y2="22" stroke="#888" stroke-width="0.6"/><line x1="6.5" y1="25" x2="22.5" y2="25" stroke="#888" stroke-width="0.6"/><line x1="6.5" y1="28" x2="22.5" y2="28" stroke="#888" stroke-width="0.6"/><line x1="6.5" y1="31" x2="22.5" y2="31" stroke="#888" stroke-width="0.6"/><line x1="6.5" y1="34" x2="22.5" y2="34" stroke="#888" stroke-width="0.6"/><line x1="6.5" y1="37" x2="22.5" y2="37" stroke="#888" stroke-width="0.6"/><line x1="6.5" y1="40" x2="22.5" y2="40" stroke="#888" stroke-width="0.6"/><line x1="8.5" y1="6.5" x2="8.5" y2="41" stroke="#888" stroke-width="0.6"/><line x1="11" y1="6.5" x2="11" y2="41" stroke="#888" stroke-width="0.6"/><line x1="18" y1="6.5" x2="18" y2="41" stroke="#888" stroke-width="0.6"/><line x1="20.5" y1="6.5" x2="20.5" y2="41" stroke="#888" stroke-width="0.6"/><rect x="12.8" y="7" width="3.6" height="33.5" fill="#d0d0d0"/><text x="14.6" y="19" text-anchor="middle" font-family="Liberation Sans" font-size="5" fill="#333">1</text><text x="14.6" y="29" text-anchor="middle" font-family="Liberation Sans" font-size="5" fill="#333">0</text><path d="M35.5,19 Q44,18.5 44,24 Q44,29.5 35.5,29 Z" fill="none" stroke="#1e1e1e" stroke-width="1.1"/><path d="M31.5,19 v10.5" stroke="#1e1e1e" stroke-width="1.6" stroke-dasharray="1,1"/><path d="M33.3,20 l1.6,1 M33.3,22.5 l1.6,1 M33.3,25 l1.6,1 M33.3,27.5 l1.6,1" stroke="#1e1e1e" stroke-width="0.7"/></g>
<defs><clipPath id="c2clip"><path d="M755.8,672 L981.5,672 Q999.8,672 999.8,690.3 L999.8,872.5 Q999.8,890.8 981.5,890.8 L755.8,890.8 Q737.5,890.8 737.5,872.5 L737.5,690.3 Q737.5,672 755.8,672 Z"/></clipPath></defs>
<g clip-path="url(#c2clip)" stroke-linecap="round" stroke-linejoin="round">
<path d="M 741.5,695.5 L 765.5,762.8" fill="none" stroke="#1e1e1e" stroke-width="1.0" />
<path d="M 782.0,799.9 L 815.7,862.4" fill="none" stroke="#1e1e1e" stroke-width="1.0" />
<path d="M 818.4,867.9 L 832.2,890.5" fill="none" stroke="#1e1e1e" stroke-width="1.0" />
<path d="M 770.3,714.0 L 795.1,779.3" fill="none" stroke="#1e1e1e" stroke-width="1.0" />
<path d="M 797.1,786.1 L 832.2,862.4" fill="none" stroke="#1e1e1e" stroke-width="1.0" />
<path d="M 834.2,868.5 L 847.3,890.5" fill="none" stroke="#1e1e1e" stroke-width="1.0" />
<path d="M 783.4,714.0 L 807.4,779.3" fill="none" stroke="#1e1e1e" stroke-width="1.0" />
<path d="M 808.8,786.1 L 842.5,862.4" fill="none" stroke="#1e1e1e" stroke-width="1.0" />
<path d="M 844.5,868.5 L 856.9,890.5" fill="none" stroke="#1e1e1e" stroke-width="1.0" />
<path d="M 788.2,675.6 L 794.4,693.4 L 812.9,673.5" fill="none" stroke="#1e1e1e" stroke-width="1.0" />
<path d="M 796.4,693.8 L 815.7,673.5" fill="none" stroke="#1e1e1e" stroke-width="1.0" />
<path d="M 795.8,699.6 L 826.7,779.3" fill="none" stroke="#1e1e1e" stroke-width="1.0" />
<path d="M 828.7,786.1 L 854.1,862.4" fill="none" stroke="#1e1e1e" stroke-width="1.0" />
<path d="M 855.5,868.5 L 866.5,890.5" fill="none" stroke="#1e1e1e" stroke-width="1.0" />
<path d="M 845.9,674.2 L 865.1,694.1" fill="none" stroke="#1e1e1e" stroke-width="1.0" />
<path d="M 843.1,773.8 L 876.1,813.6" fill="none" stroke="#1e1e1e" stroke-width="1.0" />
<path d="M 851.4,784.8 L 886.0,823.2" fill="none" stroke="#1e1e1e" stroke-width="1.0" />
<path d="M 758.0,674.9 L 761.4,679.0" fill="none" stroke="#1e1e1e" stroke-width="1.0" />
<path d="M 771.0,674.9 L 773.1,679.0" fill="none" stroke="#1e1e1e" stroke-width="1.0" />
<path d="M 812.2,713.3 L 837.0,699.6" fill="none" stroke="#1e1e1e" stroke-width="1.0" />
<path d="M 812.9,722.9 L 840.4,707.8" fill="none" stroke="#1e1e1e" stroke-width="1.0" />
<path d="M 810.2,728.4 C 812.9,736.7 821.2,747.7 829.4,751.8" fill="none" stroke="#1e1e1e" stroke-width="1.0" />
<path d="M783.6,696.8 H872.7 V728 M809.5,696.8 V728" fill="none" stroke="#1e1e1e" stroke-width="1.1"/>
<path d="M783.6,782 H885.7 V769.6 M840,782 V754.5" fill="none" stroke="#1e1e1e" stroke-width="1.1"/>
<path d="M783.6,865.1 H985.2 V819.1 M879.2,865.1 V790.9" fill="none" stroke="#1e1e1e" stroke-width="1.1"/>
<path d="M893.9,744.2 H954.3" fill="none" stroke="#1e1e1e" stroke-width="1.1"/>
<path d="M 852.0,681.7 L 865.7,693.4" fill="none" stroke="#1e1e1e" stroke-width="1.0" />
<path d="M 876.0,703.0 L 915.9,740.8" fill="none" stroke="#1e1e1e" stroke-width="1.0" />
<path d="M 921.4,747.0 L 996.2,823.9" fill="none" stroke="#1e1e1e" stroke-width="1.0" />
<path d="M 872.6,713.3 Q 883.6,720.2 876.7,727.1 L 865.7,732.6" fill="none" stroke="#1e1e1e" stroke-width="1.0" />
<path d="M 906.9,750.4 C 912.4,757.3 911.1,766.9 916.6,772.4" fill="none" stroke="#1e1e1e" stroke-width="1.0" />
<path d="M 943.3,788.9 C 950.9,797.1 948.2,805.4 956.4,812.2" fill="none" stroke="#1e1e1e" stroke-width="1.0" />
<path d="M 879.5,819.8 L 920.7,863.1" fill="none" stroke="#1e1e1e" stroke-width="1.0" />
<path d="M 924.8,867.9 L 948.2,887.8" fill="none" stroke="#1e1e1e" stroke-width="1.0" />
<path d="M 852.0,783.4 L 876.7,814.3" fill="none" stroke="#1e1e1e" stroke-width="1.0" />
<path d="M 869.2,784.8 L 878.1,791.6" fill="none" stroke="#1e1e1e" stroke-width="1.0" />
<path d="M 904.9,750.4 L 942.0,788.2" fill="none" stroke="#1e1e1e" stroke-width="1.0" />
<path d="M 981.8,828.0 L 989.4,834.2" fill="none" stroke="#1e1e1e" stroke-width="1.0" />
<path d="M 811.5,729.1 C 818.4,722.9 845.9,703.7 871.3,697.5 C 877.5,699.6 881.6,718.8 880.9,722.9 C 873.4,729.8 845.9,744.9 832.2,750.4 C 825.3,751.8 818.4,744.9 811.5,729.1 Z" fill="none" stroke="#1e1e1e" stroke-width="1.0" />
<ellipse cx="853.5" cy="719.5" rx="15" ry="13" fill="#fff" stroke="#1e1e1e" stroke-width="1.2"/>
<ellipse cx="853.5" cy="720" rx="12.5" ry="10.5" fill="none" stroke="#1e1e1e" stroke-width="0.8"/>
<path d="M842.5,707 L842.5,717.5 A11,7 0 0,0 864.5,717.5 L864.5,707 Z" fill="#c4c4c4" stroke="#1e1e1e" stroke-width="1.3"/>
<ellipse cx="853.5" cy="707" rx="11" ry="7" fill="#d0d0d0" stroke="#1e1e1e" stroke-width="1.3"/>
<path d="M843,711 A11,7 0 0,0 864,711 M843,714 A11,7 0 0,0 864,714" fill="none" stroke="#1e1e1e" stroke-width="0.6"/>
<path d="M849,704 a4,3 0 0,0 5,5" fill="none" stroke="#1e1e1e" stroke-width="0.7"/>
<path d="M815.0,728.4 L828.0,722.5 L845.9,742.0 L845.9,744.5 L834.2,752.0 L834.2,749.5 Z" fill="#3a3a3a" stroke="#1e1e1e" stroke-width="1.4" stroke-linejoin="round"/>
<path d="M815.0,728.4 L828.0,722.5 L845.9,742.0 L834.2,749.5 Z" fill="#c8c8c8" stroke="#1e1e1e" stroke-width="1.3" stroke-linejoin="round"/>
<path d="M826,732 l3,3 M831,738 l2,2" stroke="#1e1e1e" stroke-width="0.8"/>
<path d="M844.5,754.5 L862.4,743.5 L881.6,762.3 L881.6,765.3 L864.4,780.0 L864.4,777.0 Z" fill="#3a3a3a" stroke="#1e1e1e" stroke-width="1.4" stroke-linejoin="round"/>
<path d="M844.5,754.5 L862.4,743.5 L881.6,762.3 L864.4,777.0 Z" fill="#c8c8c8" stroke="#1e1e1e" stroke-width="1.3" stroke-linejoin="round"/>
<path d="M852,766 L871,752" stroke="#1e1e1e" stroke-width="2.2"/><path d="M852.5,766.3 L871.3,752.3" stroke="#e6e6e6" stroke-width="1"/>
<path d="M855,755 l2,0 l0,2 l-2,0 z M868,768 l2,0 l0,2 l-2,0 z" fill="#1e1e1e"/>
<path d="M867.1,740.1 L885.0,731.2 L904.9,749.7 L904.9,752.7 L885.7,765.8 L885.7,762.8 Z" fill="#3a3a3a" stroke="#1e1e1e" stroke-width="1.4" stroke-linejoin="round"/>
<path d="M867.1,740.1 L885.0,731.2 L904.9,749.7 L885.7,762.8 Z" fill="#c8c8c8" stroke="#1e1e1e" stroke-width="1.3" stroke-linejoin="round"/>
<circle cx="886" cy="746" r="2.8" fill="none" stroke="#1e1e1e" stroke-width="0.8"/><path d="M878,739 h3" stroke="#1e1e1e" stroke-width="1"/>
<path d="M882.9,797.8 L923.4,770.3 L942.0,788.2 L942.0,791.2 L900.8,819.4 L900.8,816.4 Z" fill="#3a3a3a" stroke="#1e1e1e" stroke-width="1.4" stroke-linejoin="round"/>
<path d="M882.9,797.8 L923.4,770.3 L942.0,788.2 L900.8,816.4 Z" fill="#c8c8c8" stroke="#1e1e1e" stroke-width="1.3" stroke-linejoin="round"/>
<path d="M904.9,782 L920,801.9" stroke="#1e1e1e" stroke-width="1.4"/>
<path d="M897,797 l6,-3 M921,780 l6,-3" stroke="#1e1e1e" stroke-width="1.1"/>
<path d="M916,783 L928,775 L932,780 L920,788 Z" fill="none" stroke="#1e1e1e" stroke-width="0.8"/>
<path d="M923.4,839.7 L964.6,810.9 L981.8,828.0 L981.8,831.0 L939.9,861.9 L939.9,858.9 Z" fill="#3a3a3a" stroke="#1e1e1e" stroke-width="1.4" stroke-linejoin="round"/>
<path d="M923.4,839.7 L964.6,810.9 L981.8,828.0 L939.9,858.9 Z" fill="#c8c8c8" stroke="#1e1e1e" stroke-width="1.3" stroke-linejoin="round"/>
<path d="M945.4,823.9 L960.5,844.5" stroke="#1e1e1e" stroke-width="1.4"/>
<path d="M938,839 l6,-3 M961,823 l6,-3" stroke="#1e1e1e" stroke-width="1.1"/>
</g>
</g>
<rect x="752.1" y="680.6" width="31.5" height="31.2" fill="#fff" stroke="#1e1e1e" stroke-width="1.2"/>
<text x="767.9" y="705.4" text-anchor="middle" font-family="Liberation Sans" font-weight="bold" font-size="24" fill="#111">H</text>
<rect x="752.1" y="766.1" width="31.5" height="31.2" fill="#fff" stroke="#1e1e1e" stroke-width="1.2"/>
<text x="767.9" y="790.9" text-anchor="middle" font-family="Liberation Sans" font-weight="bold" font-size="24" fill="#111">I</text>
<rect x="752.1" y="848.5" width="31.5" height="31.2" fill="#fff" stroke="#1e1e1e" stroke-width="1.2"/>
<text x="767.9" y="873.3" text-anchor="middle" font-family="Liberation Sans" font-weight="bold" font-size="24" fill="#111">J</text>
<rect x="954.1" y="727.7" width="31.5" height="31.2" fill="#fff" stroke="#1e1e1e" stroke-width="1.2"/>
<text x="969.9" y="752.5" text-anchor="middle" font-family="Liberation Sans" font-weight="bold" font-size="24" fill="#111">K</text>
</svg>
</body></html>
